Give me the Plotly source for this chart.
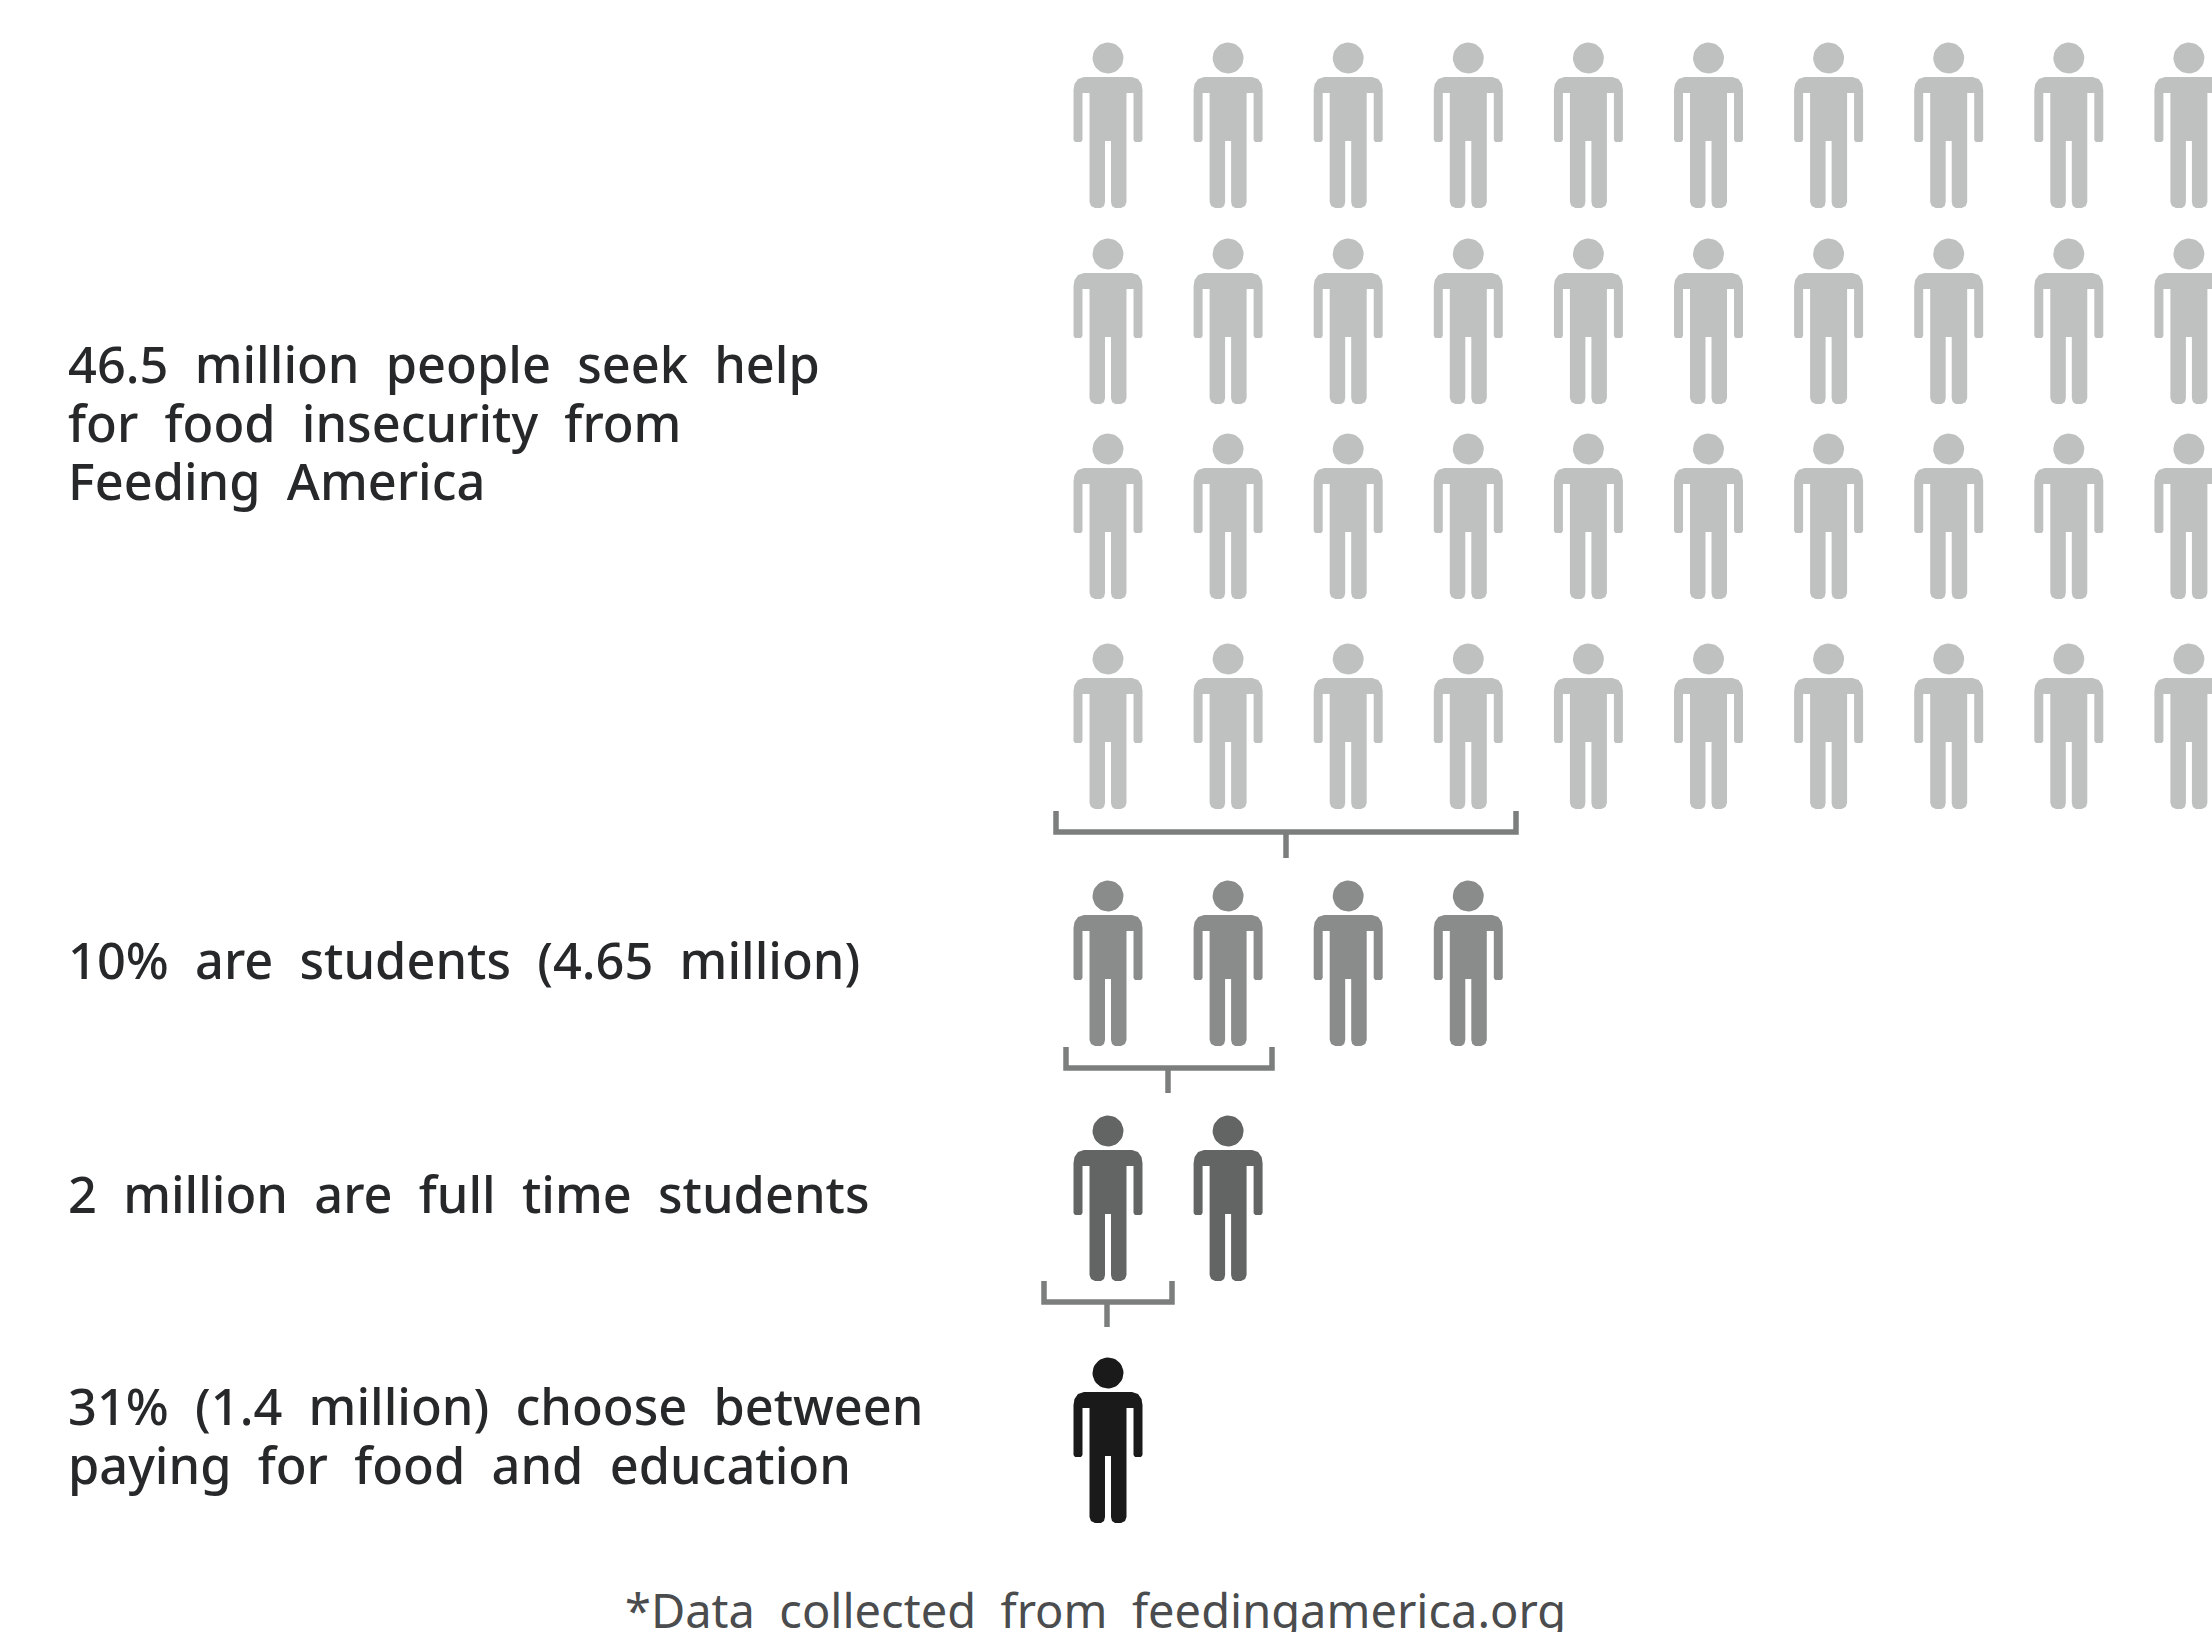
import numpy as np
import plotly.graph_objects as go

# Icon counts per row; one icon stands for roughly one million people
row_counts = [10, 10, 10, 10, 4, 2, 1]
row_groups = ["all", "all", "all", "all", "students", "full_time", "choosing"]
group_names = ["all", "students", "full_time", "choosing"]

labels = [
    ["46.5 million people seek help", "for food insecurity from", "Feeding America"],
    ["10% are students (4.65 million)"],
    ["2 million are full time students"],
    ["31% (1.4 million) choose between", "paying for food and education"],
]
footnote = "*Data collected from feedingamerica.org"

# Page layout, in pixels
WIDTH, HEIGHT = 2212, 1632
COLUMN_START = 1108
COLUMN_STEP = 120.1
ROW_HEAD_Y = [58, 254, 449, 659, 896, 1131, 1373]
GROUP_COLORS = {"all": "#bfc1c0", "students": "#8a8c8b", "full_time": "#636564", "choosing": "#1a1a1a"}
LABEL_Y = [422, 959, 1193, 1435]
LINE_PITCH = 58.5
LABEL_X = 66
BRACKET_COLOR = "#7c7e7d"
# left, right, arm top, bar, stem end, stem x
BRACKETS = [
    (1056, 1516, 811, 832, 858, 1286),
    (1066, 1272, 1047, 1068, 1093, 1168),
    (1044, 1172, 1281, 1302, 1327, 1107),
]


def spaced(text):
    """Widen the gaps between words with a second, non-breaking space."""
    return text.replace(" ", "\u00a0\u00a0")


def person_outline():
    """Body and head outline relative to the centre of the head."""
    head_t = np.linspace(0, 2 * np.pi, 37)
    head_x = 15.5 * np.cos(head_t)
    head_y = 15.5 * np.sin(head_t)

    # Right half of the body, from neck down to the crotch
    half = [
        (0, 19), (24, 19), (30, 21), (33.5, 26), (34.5, 32),
        (34.5, 82), (33, 84), (27, 84), (25.5, 82), (25.5, 35),
        (18.5, 35), (18.5, 144), (17, 148), (13, 150), (7, 150), (4, 148), (3, 144),
        (3, 83), (0, 83),
    ]
    left = [(-x, y) for x, y in reversed(half)]
    body = half + left
    body_x = [p[0] for p in body]
    body_y = [p[1] for p in body]
    return (list(head_x), list(head_y)), (body_x, body_y)


(HEAD_X, HEAD_Y), (BODY_X, BODY_Y) = person_outline()

fig = go.Figure()

# One filled trace per colour group, with every icon in it
for name in group_names:
    xs, ys = [], []
    for count, group, head_y in zip(row_counts, row_groups, ROW_HEAD_Y):
        if group != name:
            continue
        for col in range(count):
            cx = COLUMN_START + COLUMN_STEP * col
            xs += [cx + v for v in HEAD_X] + [None] + [cx + v for v in BODY_X] + [cx + BODY_X[0], None]
            ys += [head_y + v for v in HEAD_Y] + [None] + [head_y + v for v in BODY_Y] + [head_y + BODY_Y[0], None]
    fig.add_trace(go.Scatter(
        x=xs, y=ys, mode="lines", fill="toself", fillcolor=GROUP_COLORS[name],
        line=dict(width=0, color=GROUP_COLORS[name]), hoverinfo="skip", showlegend=False,
    ))

# Brackets tying each row to the one below it
for left, right, top, bar, stem_end, stem_x in BRACKETS:
    fig.add_trace(go.Scatter(
        x=[left, left, right, right, None, stem_x, stem_x],
        y=[top, bar, bar, top, None, bar, stem_end],
        mode="lines", line=dict(width=5.5, color=BRACKET_COLOR),
        hoverinfo="skip", showlegend=False,
    ))

# Each line is placed on its own so the pitch stays independent of the font size
for lines, y in zip(labels, LABEL_Y):
    first = y - LINE_PITCH * (len(lines) - 1) / 2
    for i, line in enumerate(lines):
        fig.add_annotation(
            x=LABEL_X, y=first + i * LINE_PITCH, text=spaced(line), showarrow=False,
            xanchor="left", yanchor="middle", align="left",
            font=dict(family="Noto Sans", size=50.5, weight=500, color="#26282a"),
        )

fig.add_annotation(
    x=1095, y=1610, text=spaced(footnote), showarrow=False,
    xanchor="center", yanchor="middle",
    font=dict(family="Noto Sans", size=47, color="#4a4c4e"),
)

fig.update_layout(
    width=WIDTH, height=HEIGHT, margin=dict(l=0, r=0, t=0, b=0),
    paper_bgcolor="white", plot_bgcolor="white", showlegend=False,
    xaxis=dict(range=[0, WIDTH], visible=False, fixedrange=True),
    yaxis=dict(range=[HEIGHT, 0], visible=False, fixedrange=True),
)

fig.write_html("out.html")
